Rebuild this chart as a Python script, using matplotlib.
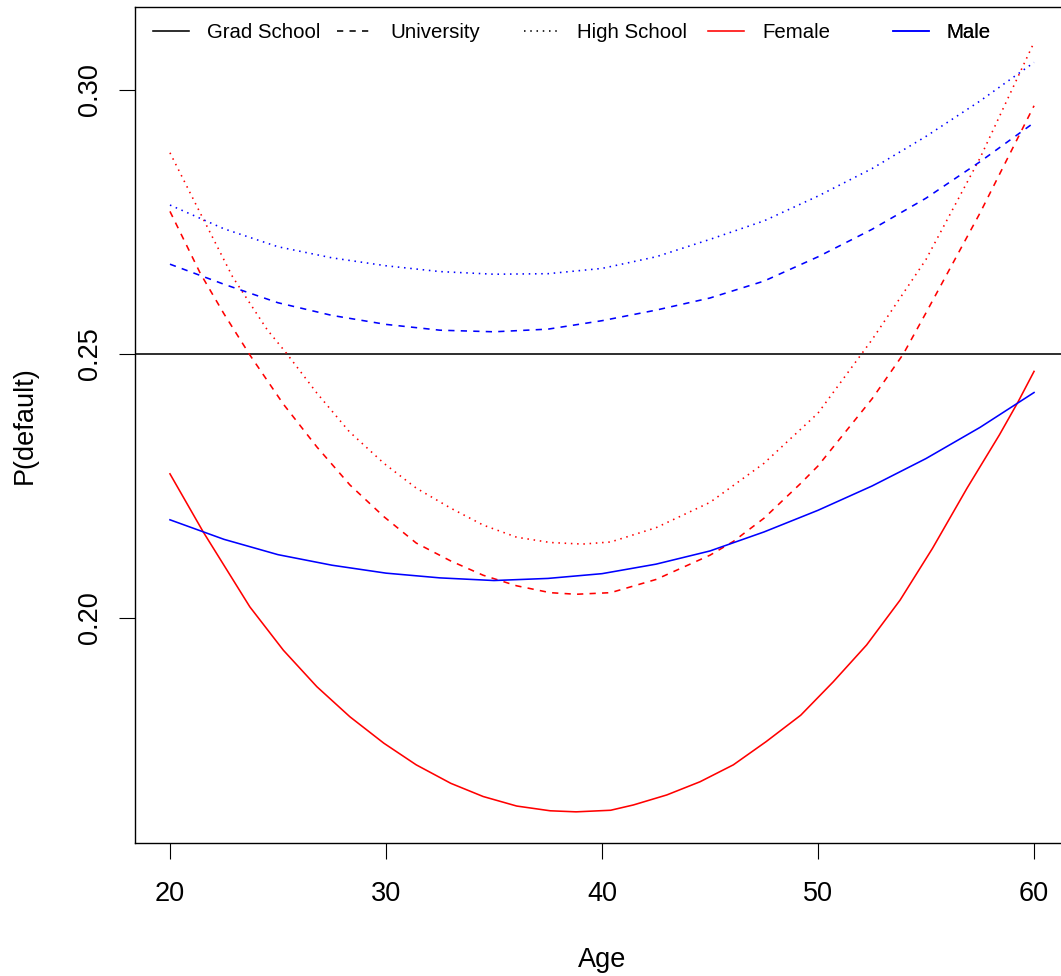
import matplotlib
matplotlib.use('Agg')
import matplotlib.pyplot as plt
from matplotlib.lines import Line2D

plt.rcParams['font.family'] = ['Liberation Sans', 'DejaVu Sans']
plt.rcParams['lines.scale_dashes'] = False

# values; the strongly curved female lines were read
# at more ages than the flatter male ones
age_f_grad = [20, 21.54, 23.7, 25.25, 26.8, 28.33, 29.9, 31.4, 33.0, 34.5, 36.05, 37.6, 38.8,
              40.4, 41.45, 43.0, 44.54, 46.08, 47.6, 49.2, 50.7, 52.25, 53.8, 55.3, 56.9,
              58.4, 59.27, 60]
female_grad = [0.2273, 0.2163, 0.2021, 0.1939, 0.1870, 0.1813, 0.1763, 0.1722, 0.1687,
               0.1662, 0.1644, 0.1635, 0.1633, 0.1636, 0.1646, 0.1665, 0.1690, 0.1722,
               0.1766, 0.1816, 0.1879, 0.1949, 0.2034, 0.2132, 0.2246, 0.2347, 0.2410,
               0.2467]

age_f_univ = [20, 21.4, 22.5, 23.7, 25.25, 26.8, 28.33, 29.9, 31.4, 33.0, 34.5, 36.05, 37.6,
              38.8, 40.4, 42.5, 45, 46.08, 47.5, 49.2, 50, 52.5, 53.95, 55, 57.5, 60]
female_univ = [0.2770, 0.2653, 0.2576, 0.2498, 0.2405, 0.2324, 0.2252, 0.2192, 0.2142,
               0.2108, 0.2081, 0.2061, 0.2048, 0.2045, 0.2048, 0.2073, 0.2119, 0.2145,
               0.2189, 0.2255, 0.2288, 0.2415, 0.2500, 0.2578, 0.2767, 0.2970]

age_f_hs = [20, 21.4, 22.9, 24.5, 25.4, 26.8, 28.3, 29.9, 31.4, 33.0, 34.5, 36.05, 37.6,
            39.1, 40.4, 42.5, 45, 47.5, 50, 52.5, 55, 57.5, 60]
female_hs = [0.2881, 0.2767, 0.2646, 0.2546, 0.2501, 0.2426, 0.2353, 0.2293, 0.2246,
             0.2208, 0.2176, 0.2153, 0.2143, 0.2140, 0.2144, 0.2171, 0.2219, 0.2293,
             0.2388, 0.2527, 0.2679, 0.2871, 0.3090]

age = [20, 22.5, 25, 27.5, 30, 32.5, 35, 37.5, 40, 42.5, 45, 47.5, 50, 52.5, 55, 57.5, 60]
male_grad = [0.2186, 0.2149, 0.2120, 0.2100, 0.2085, 0.2076, 0.2071, 0.2075, 0.2084,
             0.2102, 0.2127, 0.2163, 0.2204, 0.2250, 0.2302, 0.2361, 0.2427]
male_univ = [0.2670, 0.2632, 0.2597, 0.2573, 0.2556, 0.2545, 0.2542, 0.2547, 0.2563,
             0.2583, 0.2606, 0.2638, 0.2684, 0.2736, 0.2795, 0.2864, 0.2938]
male_hs = [0.2782, 0.2737, 0.2703, 0.2682, 0.2667, 0.2656, 0.2651, 0.2652, 0.2662,
           0.2684, 0.2717, 0.2752, 0.2799, 0.2851, 0.2912, 0.2979, 0.3052]

baseline = 0.25

x_ticks = [20, 30, 40, 50, 60]
y_ticks = [0.20, 0.25, 0.30]
y_tick_labels = ['0.20', '0.25', '0.30']

legend_labels = ['Grad School', 'University', 'High School', 'Female', 'Male']

SOLID = '-'
DASH = (0, (4.5, 4.5))
DOT = (0, (1.1, 3.4))
LW = 1.15

fig = plt.figure(figsize=(10.61, 9.76), dpi=100)
ax = fig.add_axes([135.4/1061, 1-843/976, 933.2/1061, 836/976])

ax.axhline(baseline, color='black', lw=LW)
ax.plot(age_f_grad, female_grad, color='red', lw=LW, ls=SOLID)
ax.plot(age_f_univ, female_univ, color='red', lw=LW, ls=DASH)
ax.plot(age_f_hs, female_hs, color='red', lw=LW, ls=DOT)
ax.plot(age, male_grad, color='blue', lw=LW, ls=SOLID)
ax.plot(age, male_univ, color='blue', lw=LW, ls=DASH)
ax.plot(age, male_hs, color='blue', lw=LW, ls=DOT)

ax.set_xlim(18.4, 61.6)
ax.set_ylim(0.1574, 0.3157)
ax.set_xticks(x_ticks)
ax.set_yticks(y_ticks)
ax.set_yticklabels(y_tick_labels)
ax.tick_params(direction='out', length=11.5, width=0.8, labelsize=19.5)
ax.tick_params(axis='x', pad=16)
ax.tick_params(axis='y', pad=12)
for lab in ax.get_yticklabels():
    lab.set_rotation(90)
    lab.set_va('center')
for sp in ax.spines.values():
    sp.set_linewidth(1.0)

ax.set_xlabel('Age', fontsize=19.5, labelpad=29)
ax.set_ylabel('P(default)', fontsize=19.5, labelpad=28)

# R style horizontal legend: evenly spaced entries across the top
handles = [Line2D([], [], color='black', lw=LW, ls=SOLID),
           Line2D([], [], color='black', lw=LW, ls=DASH),
           Line2D([], [], color='black', lw=LW, ls=DOT),
           Line2D([], [], color='red', lw=LW, ls=SOLID),
           Line2D([], [], color='blue', lw=LW, ls=SOLID)]
x_pos = [0.0189, 0.2160, 0.4159, 0.6136, 0.8118]
for h, lbl, xp in zip(handles, legend_labels, x_pos):
    leg = ax.legend([h], [lbl], loc='center left', bbox_to_anchor=(xp, 0.9689),
                    frameon=False, fontsize=14.7, handlelength=1.76,
                    handletextpad=0.88, borderpad=0, borderaxespad=0)
    ax.add_artist(leg)

fig.savefig('out.png', dpi=100)
